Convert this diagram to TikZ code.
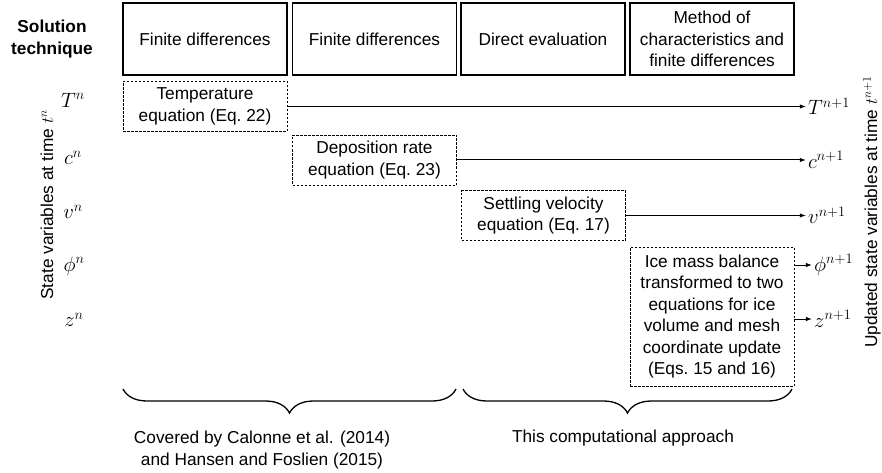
\documentclass[tikz,border=0pt]{standalone}
\usepackage{fontspec}
\setmainfont{Liberation Sans}
\usepackage{tikz}
\usetikzlibrary{arrows.meta,positioning,decorations.pathreplacing}

\begin{document}
\begin{tikzpicture}[x=1pt, y=-1pt,
  every node/.style={font=\fontsize{17.28}{21.5}\selectfont},
  method/.style={rectangle, draw, line width=1.4pt, minimum width=164pt, minimum height=72pt, align=center, inner sep=2pt},
  eqbox/.style={rectangle, draw, dash pattern=on 2.5pt off 1.5pt, line width=0.7pt, minimum width=164pt, minimum height=50pt, align=center, inner sep=2pt},
  var/.style={font=\fontsize{20.74}{24}\selectfont},
  line/.style={draw, -{Latex[length=2.2mm, width=1.6mm]}, line width=1pt},
  curly/.style={decorate, decoration={brace, mirror, amplitude=24pt, aspect=0.5}, line width=1.3pt}]
  \useasboundingbox (0,0) rectangle (882,473);
  % solution technique row
  \node [align=center, font=\fontsize{17.28}{21.5}\selectfont\bfseries] (soltech) at (52,39) {Solution\\technique};
  \node [method] (fd1) at (205,39) {Finite differences};
  \node [method] (fd2) at (374.5,39) {Finite differences};
  \node [method] (direct) at (543,39) {Direct evaluation};
  \node [method] (moc) at (712,39) {Method of\\characteristics and\\finite differences};
  % state variables at time t^n
  \node [rotate=90] (statelbl) at (47,205) {State variables at time $t^n$};
  \node [var] (Tn) at (73,100) {$T^n$};
  \node [var] (cn) at (73,158) {$c^n$};
  \node [var] (vn) at (73,212) {$v^n$};
  \node [var] (phin) at (74,266) {$\phi^n$};
  \node [var] (zn) at (74,320) {$z^n$};
  % equations
  \node [eqbox] (temp) at (205,106.5) {Temperature\\equation (Eq.~22)};
  \node [eqbox] (depo) at (374.5,160) {Deposition rate\\equation (Eq.~23)};
  \node [eqbox] (settle) at (543.5,215.5) {Settling velocity\\equation (Eq.~17)};
  \node [eqbox, minimum height=139pt] (ice) at (712,316.5) {Ice mass balance\\transformed to two\\equations for ice\\volume and mesh\\coordinate update\\(Eqs.~15 and 16)};
  % updated state variables
  \node [var, anchor=west, inner sep=2pt] (Tout) at (806,106.5) {$T^{n+1}$};
  \node [var, anchor=west, inner sep=2pt] (cout) at (806,160) {$c^{n+1}$};
  \node [var, anchor=west, inner sep=2pt] (vout) at (806,215.5) {$v^{n+1}$};
  \node [var, anchor=west, inner sep=2pt] (phiout) at (812,265) {$\phi^{n+1}$};
  \node [var, anchor=west, inner sep=2pt] (zout) at (812,319) {$z^{n+1}$};
  \node [rotate=90] (updlbl) at (872,212) {Updated state variables at time $t^{n+1}$};
  \path [line] (temp.east) -- (Tout.west);
  \path [line] (depo.east) -- (cout.west);
  \path [line] (settle.east) -- (vout.west);
  \path [line] (ice.east |- phiout.west) -- (phiout.west);
  \path [line] (ice.east |- zout.west) -- (zout.west);
  % braces
  \coordinate (b1) at (123,389);
  \coordinate (b2) at (456,389);
  \coordinate (b3) at (463,389);
  \coordinate (b4) at (792,389);
  \draw [curly] (b1) -- (b2);
  \draw [curly] (b3) -- (b4);
  \node [align=center] (covered) at (262,450) {Covered by Calonne et al. (2014)\\and Hansen and Foslien (2015)};
  \node (thisapp) at (623,438) {This computational approach};
\end{tikzpicture}
\end{document}
